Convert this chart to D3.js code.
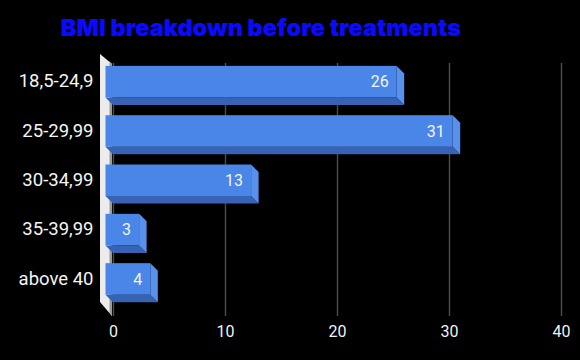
<!DOCTYPE html>
<html>
<head>
<meta charset="utf-8">
<script src="https://cdn.jsdelivr.net/npm/d3@7"></script>
<style>
  html, body { margin: 0; padding: 0; background: #000; }
  svg { display: block; }
</style>
</head>
<body>
<svg id="chart" width="580" height="360"></svg>
<script>
const categories = ["18,5-24,9", "25-29,99", "30-34,99", "35-39,99", "above 40"];
const values = [26, 31, 13, 3, 4];
const xTicks = [0, 10, 20, 30, 40];
const title = "BMI breakdown before treatments";

const W = 580, H = 360;
const depth = 7.5;
const svg = d3.select("#chart");
svg.append("rect").attr("width", W).attr("height", H).attr("fill", "#000");

const x = d3.scaleLinear().domain([0, 40]).range([113, 561]);
const y = d3.scaleBand().domain(categories).range([57, 303.6]).paddingInner(0.36).paddingOuter(0.18);

// title
svg.append("text")
  .attr("x", 261).attr("y", 35.5)
  .attr("text-anchor", "middle")
  .attr("font-family", "Inter, 'Noto Sans', sans-serif")
  .attr("font-weight", 900)
  .attr("font-size", 23.5)
  .attr("letter-spacing", 0)
  .attr("fill", "#0a0aff")
  .text(title);

// gridlines + tick labels
const gridTop = 63, gridBottom = 316;
const axis = d3.axisBottom(x).tickValues(xTicks).tickSize(-(gridBottom - gridTop)).tickPadding(10).tickFormat(d3.format("d"));
const gAxis = svg.append("g").attr("transform", `translate(0,${gridBottom})`).call(axis);
gAxis.select(".domain").remove();
gAxis.selectAll(".tick line").attr("stroke", "#4d4d4d").attr("stroke-width", 1.4);
gAxis.selectAll(".tick text")
  .attr("fill", "#f2f2f2")
  .attr("font-family", "Roboto, 'Noto Sans', sans-serif")
  .attr("font-size", 16)
  .attr("dy", "0.71em");

// side wall at zero
const x0 = x(0);
svg.append("polygon")
  .attr("points", [[x0 - 13, 54], [x0 - 1, 64], [x0 - 1, 316], [x0 - 13, 302]].map(p => p.join(",")).join(" "))
  .attr("fill", "#ececec");
svg.append("polygon")
  .attr("points", [[x0 - 3.5, 61], [x0 - 1, 64], [x0 - 1, 316], [x0 - 3.5, 313]].map(p => p.join(",")).join(" "))
  .attr("fill", "#9a9a9a");

// category labels
svg.append("g").selectAll("text").data(categories).join("text")
  .attr("x", 93.5)
  .attr("y", d => y(d) + y.bandwidth() / 2 - 1)
  .attr("dy", "0.36em")
  .attr("text-anchor", "end")
  .attr("font-family", "Roboto, 'Noto Sans', sans-serif")
  .attr("font-size", 18.5)
  .attr("fill", "#f4f4f4")
  .text(d => d);

// 3D bars
const data = categories.map((c, i) => ({ c, v: values[i] }));
const bars = svg.append("g").selectAll("g").data(data).join("g");
const pts = arr => arr.map(p => p.join(",")).join(" ");
bars.append("polygon") // bottom face
  .attr("points", d => {
    const yt = y(d.c), bw = y.bandwidth(), xv = x(d.v);
    return pts([[x0 - depth, yt + bw], [xv - depth, yt + bw], [xv, yt + bw + depth], [x0, yt + bw + depth]]);
  })
  .attr("fill", "#3862b4");
bars.append("polygon") // right side face
  .attr("points", d => {
    const yt = y(d.c), bw = y.bandwidth(), xv = x(d.v);
    return pts([[xv - depth, yt], [xv, yt + depth], [xv, yt + bw + depth], [xv - depth, yt + bw]]);
  })
  .attr("fill", "#5891ec");
bars.append("rect") // front face
  .attr("x", x0 - depth)
  .attr("y", d => y(d.c))
  .attr("width", d => x(d.v) - x0)
  .attr("height", y.bandwidth())
  .attr("fill", "#4a86e8");
bars.append("text")
  .attr("x", d => x(d.v) - depth - 8)
  .attr("y", d => y(d.c) + y.bandwidth() / 2)
  .attr("dy", "0.36em")
  .attr("text-anchor", "end")
  .attr("font-family", "Roboto, 'Noto Sans', sans-serif")
  .attr("font-size", 16)
  .attr("fill", "#f4f4f4")
  .text(d => d.v);
</script>
</body>
</html>
